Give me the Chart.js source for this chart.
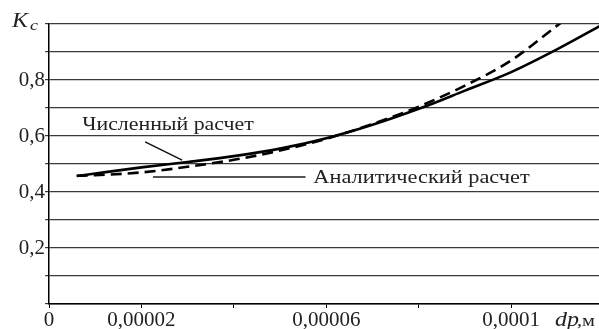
<!DOCTYPE html>
<html>
<head>
<meta charset="utf-8">
<script src="https://cdn.jsdelivr.net/npm/chart.js@4.4.1/dist/chart.umd.min.js"></script>
<style>
  html, body { margin: 0; padding: 0; background: #fff; }
  #wrap { width: 599px; height: 329px; }
</style>
</head>
<body>
<div id="wrap"><canvas id="chart"></canvas></div>
<script>
// dp, м
const dpValues = [0.000006, 0.00001, 0.00002, 0.00003, 0.00004, 0.00005, 0.00006, 0.00007, 0.00008, 0.00009, 0.0001, 0.00011, 0.00012];
// Численный расчет
const numericValues = [0.457, 0.466, 0.488, 0.507, 0.528, 0.555, 0.592, 0.64, 0.697, 0.762, 0.828, 0.91, 1.0];
// Аналитический расчет
const analyticValues = [0.458, 0.46, 0.47, 0.49, 0.515, 0.548, 0.59, 0.643, 0.705, 0.78, 0.87, 0.995, 1.12];

const xTickValues = [0, 0.00002, 0.00004, 0.00006, 0.00008, 0.0001];
const xTickLabels = ['0', '0,00002', '', '0,00006', '', '0,0001'];
const yTickLabels = ['', '', '0,2', '', '0,4', '', '0,6', '', '0,8', '', ''];

const serif = '"Liberation Serif", "DejaVu Serif", serif';

// текст, растянутый по горизонтали (как в оригинале)
function wideText(ctx, text, x, y, sx) {
    ctx.save();
    ctx.translate(x, y);
    ctx.scale(sx, 1);
    ctx.fillText(text, 0, 0);
    ctx.restore();
}

const labelsPlugin = {
    id: 'labels',
    afterDatasetsDraw(chart) {
        const ctx = chart.ctx;
        const xs = chart.scales.x, ys = chart.scales.y;
        ctx.save();
        ctx.fillStyle = '#222';
        ctx.textBaseline = 'alphabetic';
        ctx.textAlign = 'left';

        // подпись оси Y: Kc
        ctx.font = 'italic 20px ' + serif;
        wideText(ctx, 'K', 12, 27, 1.2);
        ctx.font = 'italic 15px ' + serif;
        wideText(ctx, 'c', 30, 30, 1.2);

        // подпись оси X: dp,м
        ctx.font = 'italic 20px ' + serif;
        wideText(ctx, 'dp', 555, 326, 1.2);
        ctx.font = '17px ' + serif;
        wideText(ctx, ',м', 577, 326, 1.2);

        // Численный расчет
        ctx.font = '19px ' + serif;
        wideText(ctx, 'Численный расчет', xs.getPixelForValue(0.0000072), ys.getPixelForValue(0.622), 1.15);
        ctx.strokeStyle = '#111';
        ctx.lineWidth = 1.5;
        ctx.beginPath();
        ctx.moveTo(xs.getPixelForValue(0.0000208), ys.getPixelForValue(0.579));
        ctx.lineTo(xs.getPixelForValue(0.0000288), ys.getPixelForValue(0.514));
        ctx.stroke();

        // Аналитический расчет
        ctx.strokeStyle = '#555';
        ctx.lineWidth = 2;
        const yA = ys.getPixelForValue(0.4536);
        ctx.beginPath();
        ctx.moveTo(xs.getPixelForValue(0.0000225), yA);
        ctx.lineTo(xs.getPixelForValue(0.0000555), yA);
        ctx.stroke();
        ctx.textBaseline = 'middle';
        wideText(ctx, 'Аналитический расчет', xs.getPixelForValue(0.0000572), yA + 1, 1.175);
        ctx.restore();
    }
};

const ctx = document.getElementById('chart').getContext('2d');
const chart = new Chart(ctx, {
    type: 'line',
    data: {
        datasets: [{
            label: 'Численный расчет',
            data: dpValues.map((x, i) => ({ x: x, y: numericValues[i] })),
            borderColor: '#000',
            borderWidth: 2.6,
            pointRadius: 0,
            cubicInterpolationMode: 'monotone',
            fill: false
        }, {
            label: 'Аналитический расчет',
            data: dpValues.map((x, i) => ({ x: x, y: analyticValues[i] })),
            borderColor: '#000',
            borderWidth: 2.6,
            borderDash: [11, 6],
            pointRadius: 0,
            cubicInterpolationMode: 'monotone',
            fill: false
        }]
    },
    options: {
        responsive: true,
        maintainAspectRatio: false,
        animation: false,
        layout: { padding: { top: 24, right: 0, left: 0, bottom: 0 } },
        plugins: {
            legend: { display: false },
            tooltip: { enabled: false }
        },
        scales: {
            x: {
                type: 'linear',
                min: 0,
                max: 0.000119,
                afterBuildTicks: scale => {
                    scale.ticks = xTickValues.map(v => ({ value: v }));
                },
                afterFit: scale => { scale.height = 25; },
                grid: {
                    drawOnChartArea: false,
                    drawTicks: true,
                    tickLength: 4,
                    color: '#000'
                },
                border: { color: '#000', width: 1.5 },
                ticks: {
                    autoSkip: false,
                    maxRotation: 0,
                    padding: 0,
                    color: '#222',
                    font: { family: serif, size: 21 },
                    callback: (v, i) => xTickLabels[i]
                }
            },
            y: {
                min: 0,
                max: 1,
                afterBuildTicks: scale => {
                    scale.ticks = yTickLabels.map((l, i) => ({ value: i / 10 }));
                },
                afterFit: scale => { scale.width = 49; },
                grid: {
                    drawTicks: true,
                    tickLength: 4,
                    color: '#3a3a3a',
                    lineWidth: 1.2
                },
                border: { color: '#000', width: 1.5 },
                ticks: {
                    autoSkip: false,
                    padding: 0,
                    color: '#222',
                    font: { family: serif, size: 21 },
                    callback: (v, i) => yTickLabels[i]
                }
            }
        }
    },
    plugins: [labelsPlugin]
});
</script>
</body>
</html>
